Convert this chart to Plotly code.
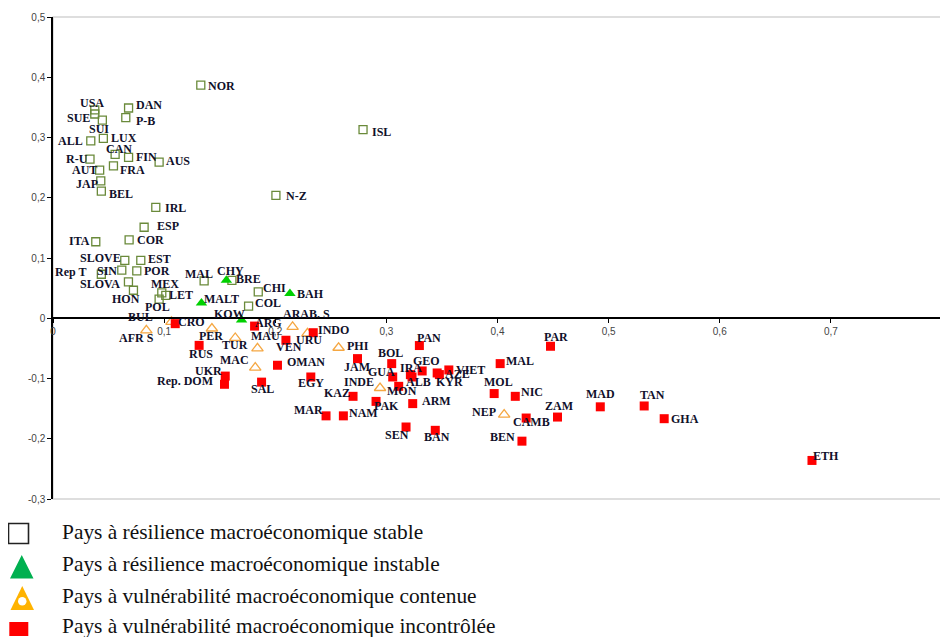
import plotly.graph_objects as go

# ---------------- data ----------------
stable_names = ["NOR", "USA", "SUE", "SUI", "DAN", "P-B", "LUX", "ALL", "CAN", "FIN", "R-U", "AUS",
                "AUT", "FRA", "JAP", "BEL", "IRL", "ISL", "N-Z", "ESP", "ITA", "COR", "SLOVE", "EST",
                "SIN", "Rep T", "POR", "SLOVA", "HON", "MEX", "LET", "POL", "MAL", "BRE", "CHI", "COL"]
stable_x = [0.133, 0.0376, 0.0376, 0.0444, 0.068, 0.0655, 0.0453, 0.034, 0.0559, 0.068, 0.0333, 0.0955,
            0.042, 0.0544, 0.043, 0.0435, 0.0925, 0.279, 0.2006, 0.082, 0.0385, 0.0685, 0.0646, 0.079,
            0.0619, 0.0435, 0.0754, 0.0679, 0.0724, 0.0979, 0.1015, 0.0955, 0.136, 0.161, 0.1847, 0.176]
stable_y = [0.387, 0.346, 0.339, 0.329, 0.349, 0.333, 0.2985, 0.2945, 0.272, 0.267, 0.264, 0.259,
            0.246, 0.253, 0.228, 0.211, 0.184, 0.313, 0.204, 0.151, 0.127, 0.130, 0.096, 0.096,
            0.080, 0.073, 0.0786, 0.0604, 0.0465, 0.042, 0.038, 0.0316, 0.062, 0.063, 0.0437, 0.020]

instable_names = ["CHY", "MALT", "BAH", "KOW"]
instable_x = [0.156, 0.1336, 0.2132, 0.1697]
instable_y = [0.063, 0.0255, 0.041, -0.003]

contenue_names = ["AFR S", "BUL", "PER", "TUR", "MAU", "ARAB. S", "URU", "PHI", "MAC", "INDE", "NEP"]
contenue_x = [0.084, 0.1066, 0.143, 0.164, 0.184, 0.2156, 0.229, 0.257, 0.182, 0.2943, 0.406]
contenue_y = [-0.020, -0.006, -0.017, -0.0327, -0.050, -0.0144, -0.025, -0.049, -0.082, -0.1158, -0.160]

incontrolee_names = ["CRO", "ARG", "INDO", "RUS", "VEN", "OMAN", "UKR", "Rep. DOM", "SAL", "EGY", "JAM",
                     "KAZ", "PAK", "MAR", "NAM", "PAN", "BOL", "GUA", "IRA", "ALB", "GEO", "AZE", "KYR",
                     "VIET", "MON", "ARM", "SEN", "BAN", "MAL", "PAR", "MOL", "NIC", "CAMB", "ZAM", "BEN",
                     "MAD", "TAN", "GHA", "ETH"]
incontrolee_x = [0.110, 0.1814, 0.2342, 0.1315, 0.2096, 0.202, 0.155, 0.1543, 0.1877, 0.232, 0.274,
                 0.270, 0.2907, 0.2457, 0.2613, 0.3297, 0.3048, 0.3057, 0.3216, 0.3231, 0.3322, 0.3457, 0.3477,
                 0.3562, 0.3111, 0.3237, 0.3177, 0.344, 0.4024, 0.4477, 0.397, 0.416, 0.4258, 0.454, 0.422,
                 0.4925, 0.532, 0.550, 0.683]
incontrolee_y = [-0.009, -0.013, -0.024, -0.045, -0.0365, -0.078, -0.096, -0.1096, -0.106, -0.0975, -0.067,
                 -0.1296, -0.138, -0.162, -0.162, -0.0453, -0.0753, -0.0975, -0.0936, -0.0975, -0.0875, -0.0908, -0.0935,
                 -0.0858, -0.113, -0.1417, -0.1805, -0.186, -0.0753, -0.0465, -0.125, -0.1296, -0.1656, -0.164, -0.204,
                 -0.147, -0.1456, -0.1667, -0.236]

legend_labels = ["Pays à résilience macroéconomique stable",
                 "Pays à résilience macroéconomique instable",
                 "Pays à vulnérabilité macroéconomique contenue",
                 "Pays à vulnérabilité macroéconomique incontrôlée"]

x_ticks = [0, 0.1, 0.2, 0.3, 0.4, 0.5, 0.6, 0.7, 0.8]
x_tick_labels = ["0", "0,1", "0,2", "0,3", "0,4", "0,5", "0,6", "0,7", "0,8"]
y_ticks = [-0.3, -0.2, -0.1, 0, 0.1, 0.2, 0.3, 0.4, 0.5]
y_tick_labels = ["-0,3", "-0,2", "-0,1", "0", "0,1", "0,2", "0,3", "0,4", "0,5"]

# ---------------- label offsets (screen pixels: right, down) ----------------
stable_off = [(21, 1), (-3, -7), (-16, 4), (-3, 9), (20, -3), (20, 3), (21, 0), (-20, 0), (4, -5), (18, 0),
              (-13, 0), (19, -1), (-15, 0), (19, 4), (-14, 3), (20, 3), (20, 1), (18, 2), (21, 1), (24, -1),
              (-16, -1), (21, 0), (-24, -2), (19, -1), (-15, 1), (-31, -2), (20, 0), (-28, 2), (-7, 9), (3, -9),
              (15, 0), (-2, 8), (-5, -7), (17, -1), (16, -4), (19, -3)]
instable_off = [(4, -9), (20, -4), (21, 0), (-12, -6)]
contenue_off = [(-10, 8), (-31, -5), (-1, 8), (0, 7), (8, -12), (14, -13), (2, 7), (19, -2), (-21, -8),
                (-21, -6), (-20, -3)]
incontrolee_off = [(16, -2), (14, -3), (20, -3), (2, 9), (3, 7), (29, -3), (-17, -5), (-39, -3), (1, 7),
                   (0, 6), (0, 8), (-16, -3), (10, 5), (-18, -6), (20, -3), (10, -8), (-1, -11), (-11, -5),
                   (1, -7), (6, 5), (4, -10), (20, 1), (10, 7), (22, 0), (3, 5), (24, -3), (-9, 8), (2, 7),
                   (20, -3), (5, -9), (4, -12), (17, -4), (5, 4), (1, -11), (-19, -4), (0, -13), (8, -11),
                   (21, 0), (14, -4)]

# ---------------- layout geometry ----------------
# the page body adds an 8px margin, so the figure is drawn 8px right / down
OFF = 8
W, H = 940, 629
ML, MR, MT, MB = 45, 6, 9, 138
PW, PH = W - ML - MR, H - MT - MB


def px(xp):
    """screen x (page pixels) -> paper fraction"""
    return (xp - OFF - ML) / PW


def py(yp):
    """screen y (page pixels) -> paper fraction"""
    return (H - MB - (yp - OFF)) / PH


fig = go.Figure()

groups = [
    (stable_names, stable_x, stable_y, stable_off,
     dict(symbol="square-open", size=8, color="#6a8a3a", line=dict(width=1.3, color="#6a8a3a"))),
    (instable_names, instable_x, instable_y, instable_off,
     dict(symbol="triangle-up", size=10, color="#00d000", line=dict(width=0))),
    (contenue_names, contenue_x, contenue_y, contenue_off,
     dict(symbol="triangle-up-open", size=10, color="#f5a742", line=dict(width=1.3, color="#f5a742"))),
    (incontrolee_names, incontrolee_x, incontrolee_y, incontrolee_off,
     dict(symbol="square", size=9, color="#ff0000", line=dict(width=0))),
]

annotations = []
for names, xs, ys, offs, mk in groups:
    fig.add_trace(go.Scatter(x=xs, y=ys, mode="markers", marker=mk, text=names,
                             hoverinfo="text", showlegend=False, cliponaxis=False))
    for n, xv, yv, (dx, dy) in zip(names, xs, ys, offs):
        annotations.append(dict(x=xv, y=yv, xref="x", yref="y", text=n, showarrow=False,
                                xshift=dx, yshift=-dy, xanchor="center", yanchor="middle",
                                font=dict(family="Liberation Serif", size=12, color="#10102a",
                                          weight="bold")))

# ---------------- manual legend (below the plot) ----------------
legend_text_y = [532, 564, 596, 626]
for lab, ty in zip(legend_labels, legend_text_y):
    annotations.append(dict(x=px(60), y=py(ty), xref="paper", yref="paper", text=lab,
                            showarrow=False, xanchor="left", yanchor="middle",
                            font=dict(family="Liberation Serif", size=21.4, color="#111111")))


def tri_path(x0, x1, ytop, ybot):
    xm = (x0 + x1) / 2
    return (f"M {px(x0)} {py(ybot)} L {px(x1)} {py(ybot)} L {px(xm)} {py(ytop)} Z")


shapes = [
    dict(type="rect", xref="paper", yref="paper", x0=0, y0=0, x1=1, y1=1,
         line=dict(color="#d4d4d4", width=1.5), layer="below"),
    # stable: open black square
    dict(type="rect", xref="paper", yref="paper", x0=px(8.5), x1=px(28.5), y0=py(543.5), y1=py(523.5),
         line=dict(color="#222222", width=1.6), fillcolor="rgba(0,0,0,0)"),
    # instable: green triangle
    dict(type="path", xref="paper", yref="paper", path=tri_path(10, 33.5, 555, 578.5),
         line=dict(width=0), fillcolor="#00b050"),
    # contenue: orange triangle with white dot
    dict(type="path", xref="paper", yref="paper", path=tri_path(10.5, 34, 586, 610),
         line=dict(width=0), fillcolor="#ffb300"),
    dict(type="circle", xref="paper", yref="paper", x0=px(18), x1=px(26.5), y0=py(605.5), y1=py(597),
         line=dict(width=0), fillcolor="white"),
    # incontrolee: red rectangle
    dict(type="rect", xref="paper", yref="paper", x0=px(9.3), x1=px(28.3), y0=py(636), y1=py(622),
         line=dict(width=0), fillcolor="#ff0000"),
]

fig.update_layout(
    width=W, height=H,
    margin=dict(l=ML, r=MR, t=MT, b=MB),
    paper_bgcolor="white", plot_bgcolor="white",
    separators=", ",
    annotations=annotations,
    shapes=shapes,
    showlegend=False,
    xaxis=dict(range=[0, 0.8], tickvals=x_ticks, ticktext=x_tick_labels,
               anchor="free", position=0.375, showline=True, linecolor="black", linewidth=1.5,
               ticks="outside", ticklen=4, tickcolor="black", showgrid=False, zeroline=False,
               automargin=False,
               tickfont=dict(family="Liberation Sans", size=10, color="#444444")),
    yaxis=dict(range=[-0.3, 0.5], tickvals=y_ticks, ticktext=y_tick_labels,
               showline=True, linecolor="black", linewidth=1.5, automargin=False,
               ticks="outside", ticklen=4, tickcolor="black", showgrid=False, zeroline=False,
               tickfont=dict(family="Liberation Sans", size=10, color="#444444")),
)

fig.write_html("out.html")
